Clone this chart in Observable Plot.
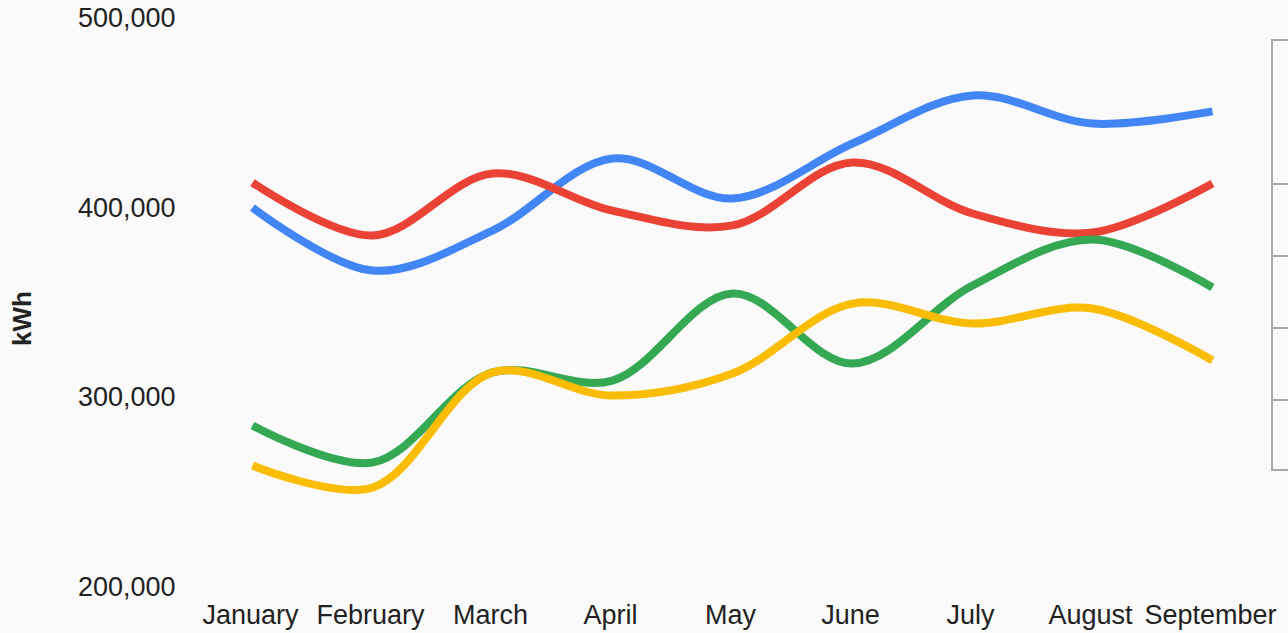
<!DOCTYPE html>
<html>
<head>
<meta charset="utf-8">
<script src="https://cdn.jsdelivr.net/npm/d3@7"></script>
<script src="https://cdn.jsdelivr.net/npm/@observablehq/plot@0.6"></script>
<style>
  html, body { margin: 0; padding: 0; background: #fafafa; overflow: hidden; }
  #wrap { position: relative; width: 1288px; height: 633px; }
  #legendbox { position: absolute; left: 1271px; top: 39px; width: 60px; height: 432px;
    border: 2px solid #a6a6a6; box-sizing: border-box; }
  .sep { position: absolute; left: 0; width: 100%; border-top: 2px solid #a6a6a6; }
</style>
</head>
<body>
<div id="wrap"></div>
<script>
const months = ["January","February","March","April","May","June","July","August","September"];
const seriesNames = ["Series A","Series B","Series C","Series D"];
const seriesColors = ["#4285f4","#ea4335","#34a853","#fbbc05"];
const blueValues   = [400300, 367100, 388200, 426200, 405100, 434100, 459400, 444600, 451000];
const redValues    = [413500, 385600, 418300, 398700, 390900, 424100, 397200, 387200, 413000];
const greenValues  = [285400, 265900, 313400, 309100, 355000, 318100, 359200, 383500, 358200];
const yellowValues = [264300, 252700, 313400, 301200, 312800, 349700, 339200, 347100, 319700];
const yTicks = [200000, 300000, 400000, 500000];
const yLabel = "kWh";

const allValues = [blueValues, redValues, greenValues, yellowValues];
const data = [];
allValues.forEach((vals, si) => vals.forEach((v, i) => data.push({month: months[i], value: v, series: seriesNames[si]})));

const fmt = d3.format(",");
const chart = Plot.plot({
  width: 1288,
  height: 633,
  marginLeft: 249,
  marginRight: 73,
  marginTop: 18,
  marginBottom: 46,
  style: {background: "transparent", fontFamily: "'Liberation Sans', Arial, sans-serif", fontSize: "27px", color: "#222"},
  x: {type: "point", domain: months, padding: 0},
  y: {domain: [200000, 500000]},
  color: {domain: seriesNames, range: seriesColors},
  marks: [
    Plot.axisX({tickSize: 0, tickPadding: 17, fontSize: 27, dx: -2, label: null}),
    Plot.axisY({ticks: yTicks, tickFormat: fmt, tickSize: 0, tickPadding: 74, fontSize: 27, label: null}),
    Plot.line(data, {x: "month", y: "value", z: "series", stroke: "series", strokeWidth: 8, strokeLinecap: "butt", curve: "catmull-rom"}),
    Plot.text([yLabel], {frameAnchor: "left", dx: -227, dy: 43, rotate: -90, text: d => d, fontWeight: "bold", fontSize: 26, fill: "#222"})
  ]
});

const wrap = document.getElementById("wrap");
wrap.appendChild(chart);
const box = document.createElement("div");
box.id = "legendbox";
[142, 214, 286, 358].forEach(t => {
  const s = document.createElement("div");
  s.className = "sep";
  s.style.top = t + "px";
  box.appendChild(s);
});
wrap.appendChild(box);
</script>
</body>
</html>
